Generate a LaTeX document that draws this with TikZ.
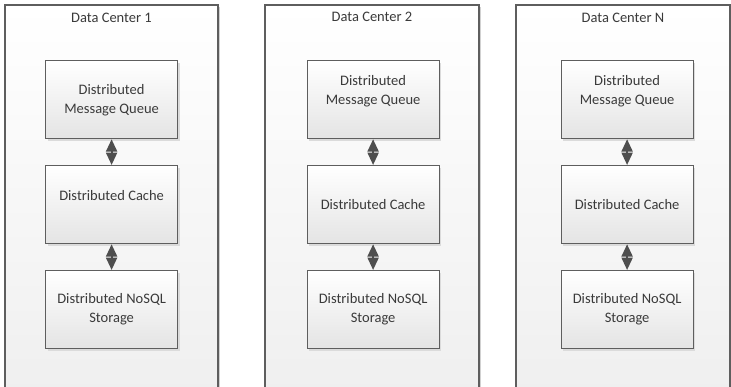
\documentclass[tikz,border=0pt]{standalone}
\usepackage{fontspec}
\setmainfont{Carlito}
\usetikzlibrary{arrows.meta,shadows}
\definecolor{edge}{HTML}{5E5E5E}
\definecolor{ink}{HTML}{3A3A3A}
\definecolor{shade}{HTML}{E4E4E4}
\definecolor{panelshade}{HTML}{EEEEEE}
\tikzset{
  panel/.style={draw=edge, line width=1.3pt, top color=white, bottom color=panelshade,
    drop shadow={shadow xshift=1.5pt, shadow yshift=-1.5pt, fill=black!18, opacity=1}},
  title/.style={text=ink, font=\fontsize{14.5}{18}\selectfont},
  box/.style={draw=edge, line width=1.2pt, top color=white, bottom color=shade,
    minimum width=132pt, minimum height=78pt, anchor=north west, inner sep=0pt,
    drop shadow={shadow xshift=2pt, shadow yshift=-2pt, fill=black!14, opacity=1}},
  lbl/.style={text=ink, align=center, font=\fontsize{14.5}{19}\selectfont},
  link/.style={draw=ink!90, line width=2.2pt,
    {Triangle[width=11pt,length=12.5pt]}-{Triangle[width=11pt,length=12.5pt]}},
}
\begin{document}
\begin{tikzpicture}[x=1pt,y=-1pt]
  \useasboundingbox (0,0) rectangle (731,386);
  \clip (0,0) rectangle (731,386);
  \fill[white] (0,0) rectangle (731,386);

  % data-centre panels, running past the lower edge
  \path[panel] (5,5) rectangle (218,420);
  \path[panel] (265,5) rectangle (479,420);
  \path[panel] (516,5) rectangle (730,420);
  \node[title] (t1) at (111.5,18) {Data Center 1};
  \node[title] (t2) at (372,17) {Data Center 2};
  \node[title] (tn) at (623,18) {Data Center N};

  % Data Center 1
  \node[box] (mq1) at (45,60) {};
  \node[box] (ca1) at (45,165) {};
  \node[box] (st1) at (45,270) {};
  \node[lbl] (mq1t) at ([yshift=-0.5pt]mq1.center) {Distributed\\Message Queue};
  \node[lbl] (ca1t) at ([yshift=9pt]ca1.center) {Distributed Cache};
  \node[lbl] (st1t) at (st1.center) {Distributed NoSQL\\Storage};

  % Data Center 2
  \node[box] (mq2) at (306.5,60) {};
  \node[box] (ca2) at (306.5,165) {};
  \node[box] (st2) at (306.5,270) {};
  \node[lbl] (mq2t) at ([yshift=8.5pt]mq2.center) {Distributed\\Message Queue};
  \node[lbl] (ca2t) at (ca2.center) {Distributed Cache};
  \node[lbl] (st2t) at (st2.center) {Distributed NoSQL\\Storage};

  % Data Center N
  \node[box] (mqn) at (560.5,60) {};
  \node[box] (can) at (560.5,165) {};
  \node[box] (stn) at (560.5,270) {};
  \node[lbl] (mqnt) at ([yshift=8pt]mqn.center) {Distributed\\Message Queue};
  \node[lbl] (cant) at (can.center) {Distributed Cache};
  \node[lbl] (stnt) at (stn.center) {Distributed NoSQL\\Storage};

  % two-way links between the layers
  \draw[link] (mq1.south) -- (ca1.north);
  \draw[link] (ca1.south) -- (st1.north);
  \draw[link] (mq2.south) -- (ca2.north);
  \draw[link] (ca2.south) -- (st2.north);
  \draw[link] (mqn.south) -- (can.north);
  \draw[link] (can.south) -- (stn.north);
\end{tikzpicture}
\end{document}
